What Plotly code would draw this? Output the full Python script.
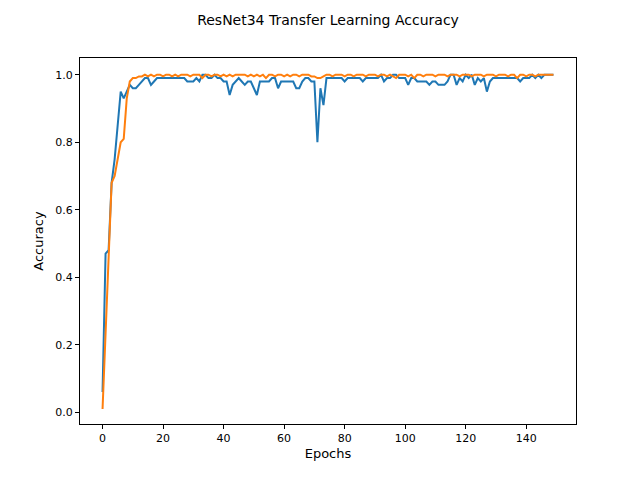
import plotly.graph_objects as go

epochs = list(range(150))

train_acc = [0.06, 0.47, 0.48, 0.68, 0.75, 0.86, 0.95, 0.93, 0.95, 0.97,
             0.96, 0.96, 0.97, 0.98, 0.99, 0.99, 0.97, 0.98, 0.99, 0.99,
             0.99, 0.99, 0.99, 0.99, 0.99, 0.99, 0.99, 0.99, 0.98, 0.98,
             0.98, 0.99, 0.98, 1.00, 1.00, 0.99, 0.99, 1.00, 0.99, 0.99,
             0.98, 0.98, 0.94, 0.97, 0.98, 0.99, 0.98, 0.97, 0.98, 0.98,
             0.96, 0.94, 0.98, 0.98, 0.98, 0.98, 0.99, 0.99, 0.96, 0.98,
             0.98, 0.98, 0.98, 0.98, 0.96, 0.96, 0.98, 0.99, 0.99, 0.98,
             0.98, 0.80, 0.96, 0.91, 0.99, 0.99, 0.99, 0.99, 0.99, 0.99,
             0.98, 0.99, 0.99, 0.99, 0.99, 0.99, 0.98, 0.99, 0.99, 0.99,
             0.99, 0.99, 1.00, 0.98, 0.99, 0.99, 1.00, 1.00, 0.99, 0.99,
             0.99, 0.97, 0.99, 0.99, 0.98, 0.98, 0.98, 0.98, 0.97, 0.98,
             0.98, 0.97, 0.97, 0.97, 0.98, 1.00, 1.00, 0.97, 0.99, 0.98,
             1.00, 0.99, 1.00, 0.97, 0.99, 0.98, 0.99, 0.95, 0.98, 0.99,
             0.99, 0.99, 0.99, 0.99, 0.99, 0.99, 0.99, 0.99, 0.98, 0.99,
             0.99, 0.99, 1.00, 0.99, 1.00, 0.99, 1.00, 1.00, 1.00, 1.00]

val_acc = [0.01, 0.25, 0.48, 0.68, 0.70, 0.75, 0.80, 0.81, 0.93, 0.98,
           0.99, 0.99, 0.995, 0.995, 1.00, 0.995, 1.00, 0.995, 1.00, 1.00,
           0.995, 1.00, 1.00, 0.995, 1.00, 0.995, 1.00, 1.00, 1.00, 0.995,
           1.00, 1.00, 1.00, 0.99, 1.00, 1.00, 0.995, 1.00, 1.00, 0.995,
           1.00, 0.995, 1.00, 0.995, 1.00, 1.00, 1.00, 1.00, 0.995, 1.00,
           0.995, 1.00, 0.995, 1.00, 0.99, 1.00, 1.00, 0.995, 1.00, 1.00,
           0.995, 1.00, 0.995, 1.00, 1.00, 0.995, 1.00, 1.00, 1.00, 0.995,
           0.995, 0.99, 0.99, 0.995, 1.00, 1.00, 0.995, 1.00, 1.00, 1.00,
           0.995, 1.00, 1.00, 0.995, 1.00, 1.00, 1.00, 0.995, 1.00, 1.00,
           1.00, 0.995, 1.00, 1.00, 0.995, 1.00, 0.995, 0.99, 1.00, 1.00,
           1.00, 0.995, 1.00, 0.99, 1.00, 1.00, 0.995, 1.00, 1.00, 1.00,
           0.995, 1.00, 1.00, 1.00, 0.995, 1.00, 1.00, 1.00, 0.995, 1.00,
           1.00, 1.00, 0.995, 1.00, 1.00, 1.00, 0.995, 1.00, 1.00, 1.00,
           0.995, 1.00, 1.00, 1.00, 0.995, 1.00, 1.00, 0.99, 1.00, 1.00,
           0.995, 1.00, 1.00, 0.995, 1.00, 1.00, 1.00, 1.00, 1.00, 1.00]

fig = go.Figure()
fig.add_trace(go.Scatter(x=epochs, y=train_acc, mode='lines',
                         line=dict(color='#1f77b4', width=2)))
fig.add_trace(go.Scatter(x=epochs, y=val_acc, mode='lines',
                         line=dict(color='#ff7f0e', width=2)))

axis = dict(showline=True, mirror=True, linecolor='black', linewidth=1,
            ticks='outside', tickcolor='black', ticklen=4,
            showgrid=False, zeroline=False, automargin=False)

fig.update_layout(
    width=640, height=480,
    title=dict(text='ResNet34 Transfer Learning Accuracy', x=0.5, y=0.985,
               xanchor='center', font=dict(size=14, color='black')),
    font=dict(family='DejaVu Sans', size=11, color='black'),
    showlegend=False,
    plot_bgcolor='white', paper_bgcolor='white',
    margin=dict(l=72, r=72, t=50, b=64),
    xaxis=dict(axis, title=dict(text='Epochs', standoff=4), range=[-7.45, 156.45],
               tickvals=[0, 20, 40, 60, 80, 100, 120, 140]),
    yaxis=dict(axis, title=dict(text='Accuracy', standoff=8), range=[-0.0345, 1.0495],
               tickvals=[0, 0.2, 0.4, 0.6, 0.8, 1.0], tickformat='.1f'),
)

fig.write_html("out.html")
